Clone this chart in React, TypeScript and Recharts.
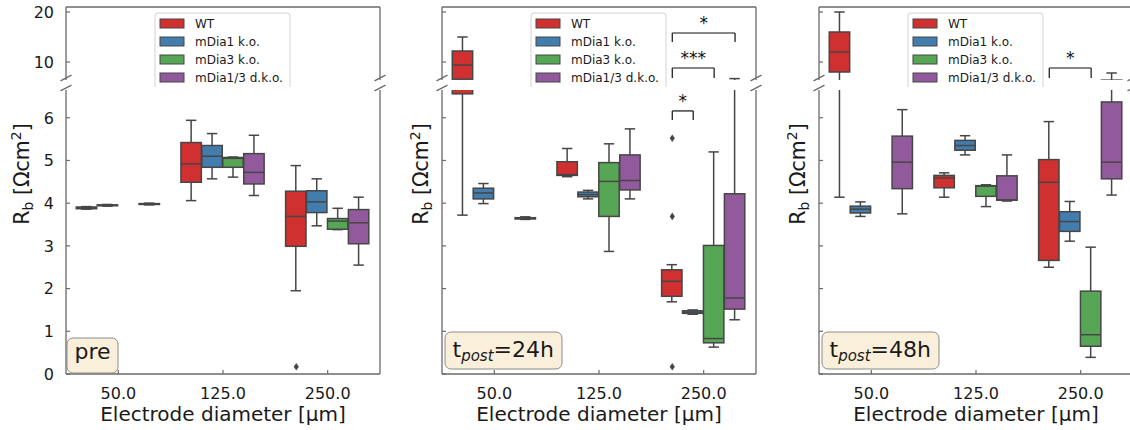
import React from "react";
import { ComposedChart, Bar, Scatter, XAxis, YAxis, ReferenceLine } from "recharts";

const diameters = ["50.0", "125.0", "250.0"];
const genotypes = ["WT", "mDia1 k.o.", "mDia3 k.o.", "mDia1/3 d.k.o."];
const palette = ["#D0302F", "#437DAE", "#57A655", "#925A9C"];
const hueOffsets = [-0.3, -0.1, 0.1, 0.3];

// [diameter idx, genotype idx, whisker low, q1, median, q3, whisker high]
const preBoxes = [
  [0, 0, 3.86, 3.87, 3.89, 3.91, 3.92],
  [0, 1, 3.93, 3.94, 3.95, 3.96, 3.97],
  [0, 3, 3.96, 3.97, 3.98, 3.99, 4.0],
  [1, 0, 4.06, 4.49, 4.92, 5.42, 5.94],
  [1, 1, 4.57, 4.84, 5.1, 5.35, 5.63],
  [1, 2, 4.61, 4.84, 5.05, 5.07, 5.08],
  [1, 3, 4.18, 4.45, 4.72, 5.16, 5.59],
  [2, 0, 1.95, 2.99, 3.69, 4.28, 4.88],
  [2, 1, 3.47, 3.78, 4.03, 4.29, 4.57],
  [2, 2, 3.38, 3.39, 3.58, 3.64, 3.88],
  [2, 3, 2.55, 3.05, 3.54, 3.85, 4.14],
];

const post24Boxes = [
  [0, 0, 3.72, 6.56, 9.4, 12.2, 15.0],
  [0, 1, 3.99, 4.1, 4.24, 4.35, 4.46],
  [0, 3, 3.62, 3.63, 3.65, 3.66, 3.68],
  [1, 0, 4.62, 4.65, 4.67, 4.97, 5.28],
  [1, 1, 4.1, 4.15, 4.2, 4.26, 4.3],
  [1, 2, 2.87, 3.69, 4.51, 4.95, 5.39],
  [1, 3, 4.1, 4.31, 4.53, 5.13, 5.74],
  [2, 0, 1.69, 1.82, 2.17, 2.44, 2.56],
  [2, 1, 1.4, 1.42, 1.45, 1.48, 1.5],
  [2, 2, 0.63, 0.73, 0.83, 3.01, 5.2],
  [2, 3, 1.27, 1.52, 1.78, 4.22, 6.68],
];

const post48Boxes = [
  [0, 0, 4.14, 8.0, 12.0, 16.0, 20.0],
  [0, 1, 3.69, 3.77, 3.86, 3.93, 4.03],
  [0, 3, 3.75, 4.34, 4.96, 5.57, 6.19],
  [1, 0, 4.14, 4.36, 4.59, 4.65, 4.71],
  [1, 1, 5.13, 5.24, 5.35, 5.47, 5.58],
  [1, 2, 3.92, 4.16, 4.4, 4.41, 4.43],
  [1, 3, 4.05, 4.07, 4.08, 4.64, 5.13],
  [2, 0, 2.5, 2.66, 4.49, 5.02, 5.91],
  [2, 1, 3.11, 3.34, 3.57, 3.8, 4.04],
  [2, 2, 0.39, 0.65, 0.92, 1.94, 2.97],
  [2, 3, 4.19, 4.57, 4.96, 6.37, 7.8],
];

// [diameter idx, genotype idx, value]
const preOutliers = [[2, 0, 0.17]];
const post24Outliers = [
  [2, 0, 5.52],
  [2, 0, 3.69],
  [2, 0, 0.17],
];
const post48Outliers: number[][] = [];

// [diameter idx, genotype a, genotype b, bracket level, leg end, stars]
const post24Brackets: [number, number, number, number, number, string][] = [
  [2, 0, 1, 6.16, 5.95, "*"],
  [2, 0, 2, 8.8, 6.8, "***"],
  [2, 0, 3, 15.8, 14.0, "*"],
];
const post48Brackets: [number, number, number, number, number, string][] = [[2, 0, 2, 8.8, 6.8, "*"]];

const lowerTicks = [0, 1, 2, 3, 4, 5, 6];
const upperTicks = [10, 20];
const lowerDomain: [number, number] = [0, 6.65];
const upperDomain: [number, number] = [6.4, 21];

const FONT = "DejaVu Sans, sans-serif";
const INK = "#1a1a1a";
const SPINE = "#6a6a6a";
const EDGE = "#464646";
const PLOT_W = 314;
const AXIS_W = 44;
const PAD = 4;
const TOP_Y = 7;
const TOP_H = 73;
const LOW_Y = 90;
const LOW_H = 284;
const XAXIS_H = 56;

const BoxShape = (props: any) => {
  const { x, y, width, height, payload } = props;
  if (!payload || !isFinite(y) || !isFinite(height)) return null;
  const { lo, q1, med, q3, hi, g } = payload;
  const at = (v: number) => y + (height * (hi - v)) / (hi - lo);
  const cx = x + width / 2;
  const hw = 10.2;
  const cw = 5.2;
  return (
    <g stroke={EDGE} strokeWidth={1.5}>
      <line x1={cx} x2={cx} y1={at(hi)} y2={at(q3)} />
      <line x1={cx} x2={cx} y1={at(q1)} y2={at(lo)} />
      <line x1={cx - cw} x2={cx + cw} y1={at(hi)} y2={at(hi)} />
      <line x1={cx - cw} x2={cx + cw} y1={at(lo)} y2={at(lo)} />
      <rect x={cx - hw} y={at(q3)} width={hw * 2} height={Math.max(at(q1) - at(q3), 0.6)} fill={palette[g]} />
      <line x1={cx - hw} x2={cx + hw} y1={at(med)} y2={at(med)} />
    </g>
  );
};

const Diamond = (props: any) => {
  const { cx, cy } = props;
  if (!isFinite(cx) || !isFinite(cy)) return null;
  return <polygon points={`${cx},${cy - 3.8} ${cx + 2.6},${cy} ${cx},${cy + 3.8} ${cx - 2.6},${cy}`} fill={EDGE} />;
};

const makeYTick = (showLabel: boolean) => (p: any) => (
  <g>
    <line x1={p.x} x2={p.x + 4} y1={p.y} y2={p.y} stroke={SPINE} strokeWidth={1.2} />
    {showLabel && (
      <text x={p.x - 12} y={p.y} dy="0.36em" textAnchor="end" fontSize={16} fontFamily={FONT} fill={INK}>
        {p.payload.value}
      </text>
    )}
  </g>
);

const XTick = (p: any) => (
  <g>
    <line x1={p.x} x2={p.x} y1={p.y} y2={p.y - 4} stroke={SPINE} strokeWidth={1.2} />
    <text x={p.x} y={p.y + 24.5} textAnchor="middle" fontSize={16} fontFamily={FONT} fill={INK}>
      {diameters[p.payload.value]}
    </text>
  </g>
);

// bracket caption drawn above the horizontal bar
const StarLabel = (props: any) => {
  const vb = props.viewBox || {};
  const cx = (vb.x ?? 0) + (vb.width ?? 0) / 2;
  return (
    <text x={cx} y={(vb.y ?? 0) - 4} textAnchor="middle" fontSize={17} fontFamily={FONT} fill="#111" stroke="none">
      {props.value}
    </text>
  );
};

type Bracket = { x1: number; x2: number; top: number; leg: number; stars: string };

function bracketLines(rows: Bracket[], domain: [number, number]) {
  const line = { stroke: "#111", strokeWidth: 1.2 };
  return rows
    .filter((b) => b.top >= domain[0] && b.top <= domain[1])
    .flatMap((b, i) => [
      <ReferenceLine key={`l${i}`} segment={[{ x: b.x1, y: b.leg }, { x: b.x1, y: b.top }]} {...line} />,
      <ReferenceLine key={`r${i}`} segment={[{ x: b.x2, y: b.leg }, { x: b.x2, y: b.top }]} {...line} />,
      <ReferenceLine
        key={`t${i}`}
        segment={[{ x: b.x1, y: b.top }, { x: b.x2, y: b.top }]}
        {...line}
        label={<StarLabel value={b.stars} />}
      />,
    ]);
}

type PanelSpec = {
  spineX: number;
  boxes: number[][];
  outliers: number[][];
  brackets: [number, number, number, number, number, string][];
  showLabels: boolean;
  tag: string;
};

const panels: PanelSpec[] = [
  { spineX: 66, boxes: preBoxes, outliers: preOutliers, brackets: [], showLabels: true, tag: "pre" },
  { spineX: 442, boxes: post24Boxes, outliers: post24Outliers, brackets: post24Brackets, showLabels: false, tag: "24h" },
  { spineX: 819, boxes: post48Boxes, outliers: post48Outliers, brackets: post48Brackets, showLabels: false, tag: "48h" },
];

function Segment({ spec, upper }: { spec: PanelSpec; upper: boolean }) {
  const rows = spec.boxes.map(([d, g, lo, q1, med, q3, hi]) => ({ x: d + hueOffsets[g], g, lo, q1, med, q3, hi }));
  const points = spec.outliers.map(([d, g, v]) => ({ x: d + hueOffsets[g], y: v }));
  const brackets: Bracket[] = spec.brackets.map(([d, a, b, top, leg, stars]) => ({
    x1: d + hueOffsets[a],
    x2: d + hueOffsets[b],
    top,
    leg,
    stars,
  }));
  const domain = upper ? upperDomain : lowerDomain;
  const plotH = upper ? TOP_H : LOW_H;
  const height = PAD + plotH + (upper ? PAD : XAXIS_H);
  const width = AXIS_W + PLOT_W + PAD;
  return (
    <div style={{ position: "absolute", left: spec.spineX - AXIS_W, top: (upper ? TOP_Y : LOW_Y) - PAD }}>
      <ComposedChart
        width={width}
        height={height}
        data={rows}
        margin={{ top: PAD, right: PAD, bottom: upper ? PAD : 0, left: 0 }}
      >
        <XAxis
          type="number"
          dataKey="x"
          domain={[-0.5, 2.5]}
          ticks={[0, 1, 2]}
          interval={0}
          allowDataOverflow
          hide={upper}
          height={XAXIS_H}
          tickSize={0}
          tickMargin={0}
          tickLine={false}
          axisLine={{ stroke: SPINE, strokeWidth: 1.3 }}
          tick={XTick}
          label={{
            value: "Electrode diameter [µm]",
            position: "insideBottom",
            offset: 9,
            fontSize: 20,
            fill: INK,
            fontFamily: FONT,
          }}
        />
        <YAxis
          type="number"
          domain={domain}
          ticks={upper ? upperTicks : lowerTicks}
          interval={0}
          allowDataOverflow
          width={AXIS_W}
          tickSize={0}
          tickMargin={0}
          tickLine={false}
          axisLine={{ stroke: SPINE, strokeWidth: 1.3 }}
          tick={makeYTick(spec.showLabels)}
        />
        {upper && <ReferenceLine y={domain[1]} stroke={SPINE} strokeWidth={1.3} />}
        <ReferenceLine x={2.5} stroke={SPINE} strokeWidth={1.3} />
        <Bar dataKey={(d: any) => [d.lo, d.hi]} barSize={20} shape={BoxShape} isAnimationActive={false} />
        {points.length > 0 && (
          <Scatter data={points} dataKey="y" shape={Diamond} isAnimationActive={false} />
        )}
        {bracketLines(brackets, domain)}
      </ComposedChart>
    </div>
  );
}

function Overlay({ spec }: { spec: PanelSpec }) {
  const sx = spec.spineX;
  const lx = sx + 89;
  const labelX = spec.showLabels ? sx - 44 : sx - 21;
  const breaks = [sx, sx + PLOT_W].flatMap((bx) =>
    [78, 88].map((by) => (
      <line key={`${bx}-${by}`} x1={bx - 5.5} y1={by + 2.8} x2={bx + 5.5} y2={by - 2.8} stroke={SPINE} strokeWidth={1.3} />
    ))
  );
  const isPre = spec.tag === "pre";
  return (
    <g fontFamily={FONT}>
      {breaks}
      <text transform={`rotate(-90 ${labelX} 174)`} x={labelX} y={174} dy="0.35em" textAnchor="middle" fontSize={20.5} fill={INK}>
        R<tspan fontSize={14} dy={4}>b</tspan>
        <tspan dy={-4}> [Ωcm</tspan>
        <tspan fontSize={14} dy={-8}>2</tspan>
        <tspan dy={8}>]</tspan>
      </text>
      <clipPath id={`lg-${sx}`}>
        <rect x={lx - 2} y={10} width={140} height={77} />
      </clipPath>
      <g clipPath={`url(#lg-${sx})`}>
        <rect x={lx} y={13} width={135} height={90} rx={3} fill="#fff" stroke="#d2d2d2" strokeWidth={1} />
        {genotypes.map((name, i) => (
          <g key={name}>
            <rect x={lx + 5} y={19 + i * 18} width={24} height={9} fill={palette[i]} stroke={EDGE} strokeWidth={1} />
            <text x={lx + 40} y={23.5 + i * 18} dy="0.36em" fontSize={12} fill={INK}>
              {name}
            </text>
          </g>
        ))}
      </g>
      {isPre ? (
        <g>
          <rect x={sx + 1} y={338} width={51} height={35} rx={6} fill="#FAEFDA" stroke="#8c8c8c" strokeWidth={1} />
          <text x={sx + 26.5} y={359} textAnchor="middle" fontSize={22} fill={INK}>
            pre
          </text>
        </g>
      ) : (
        <g>
          <rect x={sx + 3} y={332} width={117} height={37} rx={6} fill="#FAEFDA" stroke="#8c8c8c" strokeWidth={1} />
          <text x={sx + 10.5} y={357} fontSize={22} fill={INK}>
            t
            <tspan fontSize={15} fontStyle="italic" dy={4}>
              post
            </tspan>
            <tspan dy={-4}>={spec.tag}</tspan>
          </text>
        </g>
      )}
    </g>
  );
}

export default function App() {
  return (
    <div
      style={{
        position: "absolute",
        left: 0,
        top: 0,
        width: 1130,
        height: 430,
        overflow: "hidden",
        background: "#fff",
        fontFamily: FONT,
      }}
    >
      {panels.map((p) => (
        <React.Fragment key={p.spineX}>
          <Segment spec={p} upper />
          <Segment spec={p} upper={false} />
        </React.Fragment>
      ))}
      <svg width={1130} height={430} style={{ position: "absolute", left: 0, top: 0, pointerEvents: "none" }}>
        {panels.map((p) => (
          <Overlay key={p.spineX} spec={p} />
        ))}
      </svg>
    </div>
  );
}
